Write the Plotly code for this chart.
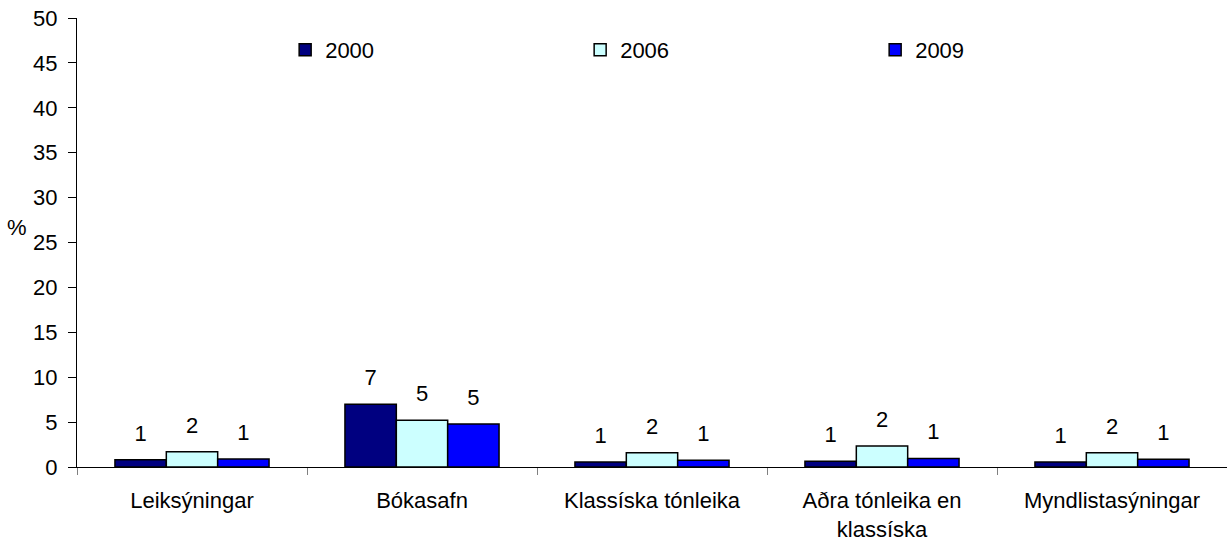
import plotly.graph_objects as go

# ── Data ──────────────────────────────────────────────────────────────────────
categories = [
    "Leiksýningar",
    "Bókasafn",
    "Klassíska tónleika",
    "Aðra tónleika en<br>klassíska",
    "Myndlistasýningar",
]
years = ["2000", "2006", "2009"]
values_2000 = [0.8, 7.0, 0.55, 0.65, 0.55]
values_2006 = [1.7, 5.2, 1.6, 2.35, 1.6]
values_2009 = [0.9, 4.8, 0.75, 0.95, 0.85]
y_ticks = [0, 5, 10, 15, 20, 25, 30, 35, 40, 45, 50]

series = [values_2000, values_2006, values_2009]
colors = ["#000080", "#CCFFFF", "#0000FF"]

FONT = "Liberation Sans, Arial, sans-serif"
FS = 22

fig = go.Figure()
for year, vals, col in zip(years, series, colors):
    fig.add_trace(
        go.Bar(
            name=year,
            x=categories,
            y=vals,
            marker=dict(color=col, line=dict(color="black", width=1.5)),
            hoverinfo="y",
        )
    )

# value labels: invisible markers push the text a bit above the bar tops
for year, vals in zip(years, series):
    fig.add_trace(
        go.Scatter(
            x=categories,
            y=vals,
            mode="markers+text",
            text=[f"{v:.0f}" for v in vals],
            textposition="top center",
            textfont=dict(size=FS, color="black", family=FONT),
            marker=dict(size=20, color="rgba(0,0,0,0)"),
            showlegend=False,
            hoverinfo="skip",
            cliponaxis=False,
        )
    )

fig.update_layout(
    width=1227,
    height=547,
    barmode="group",
    bargap=0.33,
    bargroupgap=0,
    scattermode="group",
    scattergap=0.33,
    plot_bgcolor="white",
    paper_bgcolor="white",
    font=dict(family=FONT, size=FS, color="black"),
    margin=dict(l=77, r=0, t=18, b=80),
    showlegend=True,
    legend=dict(
        orientation="h",
        x=0.181,
        y=0.929,
        xanchor="left",
        yanchor="middle",
        entrywidth=250,
        entrywidthmode="pixels",
        font=dict(size=FS, family=FONT),
        bgcolor="rgba(0,0,0,0)",
    ),
)

fig.update_xaxes(
    automargin=False,
    showline=True,
    linecolor="black",
    linewidth=1,
    ticks="outside",
    tickson="boundaries",
    ticklen=7,
    tickcolor="#808080",
    ticklabelstandoff=14,
    showgrid=False,
    tickfont=dict(size=FS),
)
fig.update_yaxes(
    automargin=False,
    range=[0, 50],
    tickvals=y_ticks,
    showline=True,
    linecolor="black",
    linewidth=1,
    ticks="outside",
    ticklen=8,
    tickcolor="black",
    ticklabelstandoff=6,
    showgrid=False,
    zeroline=False,
    tickfont=dict(size=FS),
)

fig.add_annotation(
    text="%",
    xref="paper", yref="paper",
    x=-0.043, y=0.534,
    xanchor="right",
    showarrow=False,
    borderpad=0,
    font=dict(size=FS, family=FONT),
)

# drop the default 8px body margin so the figure sits at the window corner
fig.write_html(
    "out.html",
    config={"displayModeBar": False},
    post_script="document.body.style.margin='0';",
)
